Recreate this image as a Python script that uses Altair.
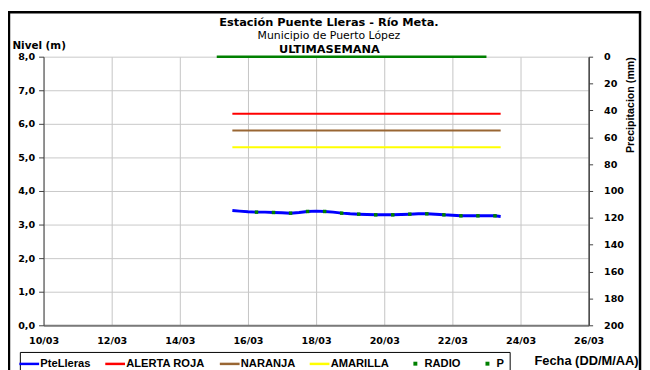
import altair as alt
import pandas as pd

# ---------------- data ----------------
series = ["PteLleras", "ALERTA ROJA", "NARANJA", "AMARILLA", "RADIO", "P"]
series_colors = ["#0000ff", "#ff0000", "#996633", "#ffff00", "#008000", "#008000"]
LINE_SYM = "M-2.4,0H1.6"
DOT_SYM = "M-2.4,0M-0.15,-0.15H0.15V0.15H-0.15Z"
series_shapes = [LINE_SYM, LINE_SYM, LINE_SYM, LINE_SYM, DOT_SYM, DOT_SYM]
series_sizes = [100, 100, 100, 100, 100, 100]

nivel_fechas = [
    "2012-03-15T13:00", "2012-03-15T18:00", "2012-03-16T00:00", "2012-03-16T06:00",
    "2012-03-16T12:00", "2012-03-16T18:00", "2012-03-17T00:00", "2012-03-17T06:00",
    "2012-03-17T12:00", "2012-03-17T18:00", "2012-03-18T00:00", "2012-03-18T06:00",
    "2012-03-18T12:00", "2012-03-18T18:00", "2012-03-19T00:00", "2012-03-19T06:00",
    "2012-03-19T12:00", "2012-03-19T18:00", "2012-03-20T00:00", "2012-03-20T06:00",
    "2012-03-20T12:00", "2012-03-20T18:00", "2012-03-21T00:00", "2012-03-21T06:00",
    "2012-03-21T12:00", "2012-03-21T18:00", "2012-03-22T00:00", "2012-03-22T06:00",
    "2012-03-22T12:00", "2012-03-22T18:00", "2012-03-23T00:00", "2012-03-23T06:00",
    "2012-03-23T10:00",
]
nivel_valores = [
    3.42, 3.40, 3.38, 3.37, 3.37, 3.36, 3.35, 3.34, 3.36, 3.39, 3.40, 3.39,
    3.37, 3.34, 3.32, 3.31, 3.30, 3.29, 3.29, 3.29, 3.30, 3.31, 3.32, 3.32,
    3.31, 3.29, 3.28, 3.26, 3.26, 3.26, 3.26, 3.26, 3.24,
]

radio_fechas = [
    "2012-03-16T06:00", "2012-03-16T18:00", "2012-03-17T06:00", "2012-03-17T18:00",
    "2012-03-18T06:00", "2012-03-18T18:00", "2012-03-19T06:00", "2012-03-19T18:00",
    "2012-03-20T06:00", "2012-03-20T18:00", "2012-03-21T06:00", "2012-03-21T18:00",
    "2012-03-22T06:00", "2012-03-22T18:00", "2012-03-23T06:00",
]
radio_valores = [3.37, 3.36, 3.34, 3.39, 3.39, 3.34, 3.31, 3.29, 3.29, 3.31,
                 3.32, 3.29, 3.26, 3.26, 3.26]

alerta_fechas = ["2012-03-15T13:00", "2012-03-23T10:00"]
alerta_roja = [6.3, 6.3]
alerta_naranja = [5.8, 5.8]
alerta_amarilla = [5.3, 5.3]

p_fechas = ["2012-03-15T02:00", "2012-03-23T00:00"]
p_valores = [0, 0]

x_dominio = ["2012-03-10T00:00", "2012-03-26T00:00"]
x_ticks = ["2012-03-10T00:00", "2012-03-12T00:00", "2012-03-14T00:00",
           "2012-03-16T00:00", "2012-03-18T00:00", "2012-03-20T00:00",
           "2012-03-22T00:00", "2012-03-24T00:00", "2012-03-26T00:00"]
nivel_ticks = [0, 1, 2, 3, 4, 5, 6, 7, 8]
precip_ticks = [0, 20, 40, 60, 80, 100, 120, 140, 160, 180, 200]

# ---------------- tables ----------------
nivel_df = pd.DataFrame({"fecha": nivel_fechas, "nivel": nivel_valores, "serie": "PteLleras"})
radio_df = pd.DataFrame({"fecha": radio_fechas, "nivel": radio_valores, "serie": "RADIO"})
alert_df = pd.concat([
    pd.DataFrame({"fecha": alerta_fechas, "nivel": alerta_roja, "serie": "ALERTA ROJA"}),
    pd.DataFrame({"fecha": alerta_fechas, "nivel": alerta_naranja, "serie": "NARANJA"}),
    pd.DataFrame({"fecha": alerta_fechas, "nivel": alerta_amarilla, "serie": "AMARILLA"}),
])
p_df = pd.DataFrame({"fecha": p_fechas, "precip": p_valores, "serie": "P"})

TICKF = "DejaVu Sans"
TXTF = "Liberation Sans"

color_scale = alt.Scale(domain=series, range=series_colors)
x_dt = [alt.DateTime(year=2012, month=3, date=int(s[8:10])) for s in x_ticks]
x_dom = [alt.DateTime(year=2012, month=3, date=int(s[8:10])) for s in x_dominio]

x_enc = alt.X(
    "fecha:T",
    scale=alt.Scale(domain=x_dom),
    axis=alt.Axis(
        values=x_dt, format="%d/%m", ticks=False, grid=True, gridColor="#c4c4c4",
        domainColor="#7a7a7a", domainWidth=2, labelFont=TICKF, labelFontWeight="bold",
        labelFontSize=9.7, labelColor="black", labelPadding=10, labelFlush=False,
        labelOverlap=False,
        title="Fecha (DD/M/AA)", titleFont=TXTF, titleFontWeight="bold", titleFontSize=13,
        titleColor="black", titleX=602, titleY=36, titleAlign="right",
        titleBaseline="middle", titleAnchor="end",
    ),
)

y_nivel = alt.Y(
    "nivel:Q",
    scale=alt.Scale(domain=[0, 8]),
    axis=alt.Axis(
        values=nivel_ticks, tickCount=9, labelExpr="replace(format(datum.value, '.1f'), '.', ',')",
        labelOverlap=False,
        grid=True, gridColor="#c8c8c8", domainColor="#404040", tickColor="#404040",
        tickSize=5, labelPadding=4, labelFont=TICKF, labelFontWeight="bold",
        labelFontSize=9.7, labelColor="black", title="Nivel (m)", titleAngle=0,
        titleFont=TICKF, titleFontWeight="bold", titleFontSize=10.5, titleColor="black",
        titleX=-32, titleY=-11.5, titleAlign="left", titleBaseline="middle",
    ),
)

legend = alt.Legend(
    title=None, orient="none", legendX=-24, legendY=299, direction="horizontal",
    columns=6, columnPadding=9, padding=5, strokeColor="black", fillColor="white",
    labelFont=TXTF, labelFontWeight="bold", labelFontSize=11.3, labelColor="black",
    labelOffset=2.75, symbolStrokeWidth=2.5, labelLimit=200,
    labelExpr="datum.label == 'P' ? 'P   ' : datum.label",
)

nivel_line = alt.Chart(nivel_df).mark_line(strokeWidth=3).encode(
    x=x_enc, y=y_nivel, color=alt.Color("serie:N", scale=color_scale, legend=legend)
)
alert_lines = alt.Chart(alert_df).mark_line(strokeWidth=2).encode(
    x=x_enc, y=y_nivel, color=alt.Color("serie:N", scale=color_scale, legend=legend)
)
radio_pts = alt.Chart(radio_df).mark_point(filled=False, strokeWidth=2, opacity=1).encode(
    x=x_enc, y=y_nivel,
    color=alt.Color("serie:N", scale=color_scale, legend=legend),
    shape=alt.Shape("serie:N", scale=alt.Scale(domain=series, range=series_shapes), legend=legend),
    size=alt.Size("serie:N", scale=alt.Scale(type="ordinal", domain=series, range=series_sizes),
                  legend=legend),
)

frame = alt.Chart(pd.DataFrame({"k": [0]})).mark_rect(
    fill="transparent", stroke="black", strokeWidth=2.5
).encode(x=alt.value(-35), x2=alt.value(604), y=alt.value(-45), y2=alt.value(340))

left = alt.layer(frame, nivel_line, alert_lines, radio_pts)

p_line = alt.Chart(p_df).mark_line(strokeWidth=2.5).encode(
    x=alt.X("fecha:T", axis=alt.Axis(
        orient="top", labels=False, ticks=False, domain=False, grid=False,
        title="ULTIMASEMANA", titleFont=TICKF, titleFontWeight="bold", titleFontSize=11.5,
        titleColor="black", titleY=-7.5, titleX=289, titleBaseline="middle",
    )),
    y=alt.Y("precip:Q", scale=alt.Scale(domain=[0, 200], reverse=True), axis=alt.Axis(
        orient="right", values=precip_ticks, grid=False, domainColor="#404040",
        labelOverlap=False,
        domainWidth=1.5, tickColor="#404040", tickSize=4, labelPadding=11,
        labelFont=TICKF, labelFontWeight="bold", labelFontSize=9.7, labelColor="black",
        title="Precipitacion (mm)", titleAngle=270, titleFont=TXTF, titleFontWeight="bold",
        titleFontSize=10.8, titleColor="black", titleX=42, titleY=48.5,
        titleAlign="center", titleBaseline="middle",
    )),
    color=alt.Color("serie:N", scale=color_scale),
)

chart = alt.layer(left, p_line).resolve_scale(y="independent").resolve_axis(
    x="independent"
).properties(
    width=552, height=272,
    autosize=alt.AutoSizeParams(type="none"),
    padding={"left": 36, "top": 47, "right": 54, "bottom": 45},
    title=alt.TitleParams(
        "Estación Puente Lleras - Río Meta.",
        subtitle=["Municipio de Puerto López"],
        font=TICKF, fontWeight="bold", fontSize=11.5, color="black",
        subtitleFont=TICKF, subtitleFontSize=11, subtitleColor="black",
        subtitlePadding=1, anchor="middle", dx=13, dy=32, offset=2,
    ),
).configure_view(stroke=None)

chart.save("out.html", embed_options={"renderer": "svg", "actions": False})
